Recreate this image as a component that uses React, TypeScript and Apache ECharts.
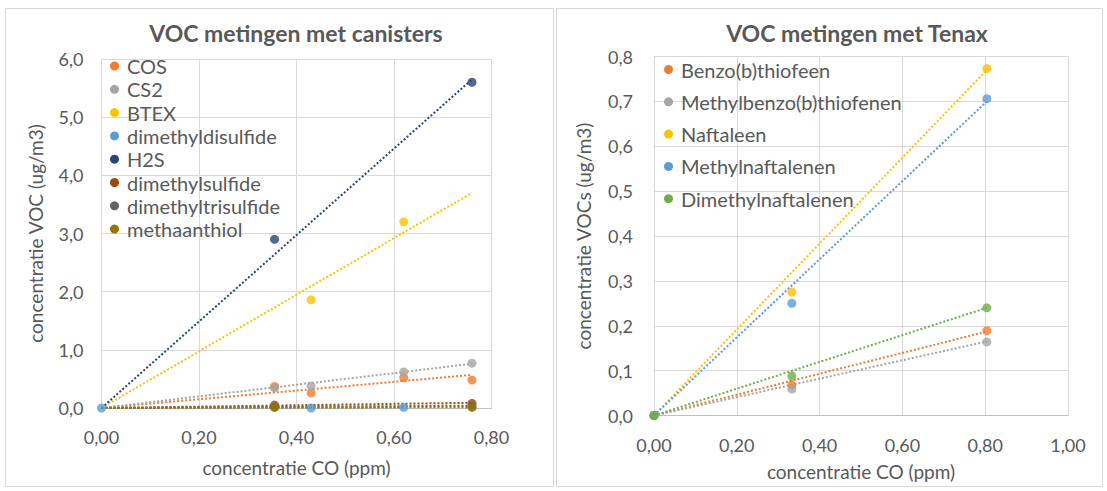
import React, { useEffect, useRef } from "react";
import * as echarts from "echarts";

// ---------- Left chart: canisters ----------
const leftNames = ["COS", "CS2", "BTEX", "dimethyldisulfide", "H2S", "dimethylsulfide", "dimethyltrisulfide", "methaanthiol"];
const leftColors = ["#ED7D31", "#A5A5A5", "#FFC000", "#5B9BD5", "#264478", "#9E480E", "#636363", "#997300"];
const leftX = [0, 0.355, 0.43, 0.62, 0.76];
const leftCOS = [null, 0.37, 0.26, 0.52, 0.48];
const leftCS2 = [null, 0.35, 0.38, 0.62, 0.77];
const leftBTEX = [null, null, 1.86, 3.2, null];
const leftDMDS = [0, null, 0.0, 0.01, null];
const leftH2S = [null, 2.9, null, null, 5.6];
const leftDMS = [null, 0.05, null, null, 0.08];
const leftDMTS = [null, 0.02, null, null, 0.03];
const leftMeSH = [null, 0.01, null, null, 0.01];
const leftSeries = [leftCOS, leftCS2, leftBTEX, leftDMDS, leftH2S, leftDMS, leftDMTS, leftMeSH];
// trend line end points [x, y] (start at origin)
const leftTrendEnd = [[0.76, 0.57], [0.76, 0.76], [0.76, 3.7], [0.62, 0.01], [0.76, 5.65], [0.76, 0.09], [0.76, 0.04], [0.76, 0.015]];

// ---------- Right chart: Tenax ----------
const rightNames = ["Benzo(b)thiofeen", "Methylbenzo(b)thiofenen", "Naftaleen", "Methylnaftalenen", "Dimethylnaftalenen"];
const rightColors = ["#ED7D31", "#A5A5A5", "#FFC000", "#5B9BD5", "#70AD47"];
const rightX = [0, 0.333, 0.804];
const rightBenzo = [0, 0.068, 0.189];
const rightMethylBenzo = [0, 0.059, 0.164];
const rightNaft = [0, 0.275, 0.773];
const rightMethylNaft = [0, 0.25, 0.706];
const rightDimethylNaft = [0, 0.088, 0.24];
const rightSeries = [rightBenzo, rightMethylBenzo, rightNaft, rightMethylNaft, rightDimethylNaft];
const rightTrendEnd = [[0.804, 0.187], [0.804, 0.165], [0.804, 0.77], [0.804, 0.70], [0.804, 0.24]];

const FONT = "Lato";
const TXT = "#595959";

function buildSeries(names: string[], colors: string[], xs: number[], ys: (number | null)[][], trends: number[][], axisIndex: number) {
  const out: any[] = [];
  names.forEach((n, i) => {
    out.push({
      name: n,
      type: "line",
      xAxisIndex: axisIndex,
      yAxisIndex: axisIndex,
      data: [[0, 0], trends[i]],
      showSymbol: false,
      symbol: "none",
      itemStyle: { color: colors[i] },
      lineStyle: { color: colors[i], width: 2, type: [2, 2] },
      z: 2,
      silent: true,
    });
  });
  names.forEach((n, i) => {
    const data = xs.map((x, k) => [x, ys[i][k]]).filter((p) => p[1] !== null);
    out.push({
      name: n,
      type: "scatter",
      xAxisIndex: axisIndex,
      yAxisIndex: axisIndex,
      data,
      symbol: "circle",
      symbolSize: 9,
      itemStyle: { color: colors[i] },
      z: 3,
    });
  });
  return out;
}

export default function App() {
  const ref = useRef<HTMLDivElement>(null);
  useEffect(() => {
    if (!ref.current) return;
    const chart = echarts.init(ref.current, undefined, { renderer: "svg" });
    const axisLabel = { color: TXT, fontFamily: FONT, fontSize: 18 };
    const splitLine = { show: true, lineStyle: { color: "#D9D9D9", width: 1 } };
    const nameStyle = { color: TXT, fontFamily: FONT, fontSize: 19 };
    const legendText = { color: TXT, fontFamily: FONT, fontSize: 20, padding: [0, 0, 0, 3] };
    chart.setOption({
      animation: false,
      backgroundColor: "#ffffff",
      graphic: [
        { type: "rect", shape: { x: 5.5, y: 8.5, width: 548, height: 478 }, style: { fill: "none", stroke: "#D9D9D9", lineWidth: 1 }, silent: true },
        { type: "rect", shape: { x: 556.5, y: 8.5, width: 546, height: 478 }, style: { fill: "none", stroke: "#D9D9D9", lineWidth: 1 }, silent: true },
      ],
      title: [
        { text: "VOC metingen met canisters", left: 296, top: 21, padding: 0, textAlign: "center", textStyle: { color: TXT, fontFamily: FONT, fontSize: 23, fontWeight: "bold" } },
        { text: "VOC metingen met Tenax", left: 857, top: 21, padding: 0, textAlign: "center", textStyle: { color: TXT, fontFamily: FONT, fontSize: 23, fontWeight: "bold" } },
      ],
      legend: [
        {
          data: leftNames.map((n) => ({ name: n, icon: "circle" })),
          orient: "vertical", left: 105, top: 51, itemWidth: 9, itemHeight: 9, itemGap: 3.3,
          textStyle: legendText,
        },
        {
          data: rightNames.map((n) => ({ name: n, icon: "circle" })),
          orient: "vertical", left: 659, top: 54.5, itemWidth: 9, itemHeight: 9, itemGap: 12.3,
          textStyle: legendText,
        },
      ],
      grid: [
        { left: 101.5, top: 59, width: 390, height: 349 },
        { left: 654, top: 56.5, width: 414, height: 359 },
      ],
      xAxis: [
        {
          type: "value", gridIndex: 0, min: 0, max: 0.8, interval: 0.2,
          axisLine: { show: true, onZero: false, lineStyle: { color: "#BFBFBF" } }, axisTick: { show: false },
          axisLabel: { ...axisLabel, margin: 20, formatter: (v: number) => v.toFixed(2).replace(".", ",") },
          splitLine,
          name: "concentratie CO (ppm)", nameLocation: "middle", nameGap: 50,
          nameTextStyle: nameStyle,
        },
        {
          type: "value", gridIndex: 1, min: 0, max: 1.0, interval: 0.2,
          axisLine: { show: true, onZero: false, lineStyle: { color: "#BFBFBF" } }, axisTick: { show: false },
          axisLabel: { ...axisLabel, margin: 20, formatter: (v: number) => v.toFixed(2).replace(".", ",") },
          splitLine,
          name: "concentratie CO (ppm)", nameLocation: "middle", nameGap: 46,
          nameTextStyle: nameStyle,
        },
      ],
      yAxis: [
        {
          type: "value", gridIndex: 0, min: 0, max: 6, interval: 1,
          axisLine: { show: false }, axisTick: { show: false },
          axisLabel: { ...axisLabel, margin: 18, formatter: (v: number) => v.toFixed(1).replace(".", ",") },
          splitLine,
          name: "concentratie VOC (ug/m3)", nameLocation: "middle", nameGap: 57,
          nameTextStyle: nameStyle,
        },
        {
          type: "value", gridIndex: 1, min: 0, max: 0.8, interval: 0.1,
          axisLine: { show: false }, axisTick: { show: false },
          axisLabel: { ...axisLabel, margin: 21, formatter: (v: number) => v.toFixed(1).replace(".", ",") },
          splitLine,
          name: "concentratie VOCs (ug/m3)", nameLocation: "middle", nameGap: 61,
          nameTextStyle: nameStyle,
        },
      ],
      series: [
        ...buildSeries(leftNames, leftColors, leftX, leftSeries, leftTrendEnd, 0),
        ...buildSeries(rightNames, rightColors, rightX, rightSeries, rightTrendEnd, 1),
      ],
    });
    return () => chart.dispose();
  }, []);
  return <div ref={ref} style={{ position: "absolute", left: 0, top: 0, width: 1107, height: 491 }} />;
}
